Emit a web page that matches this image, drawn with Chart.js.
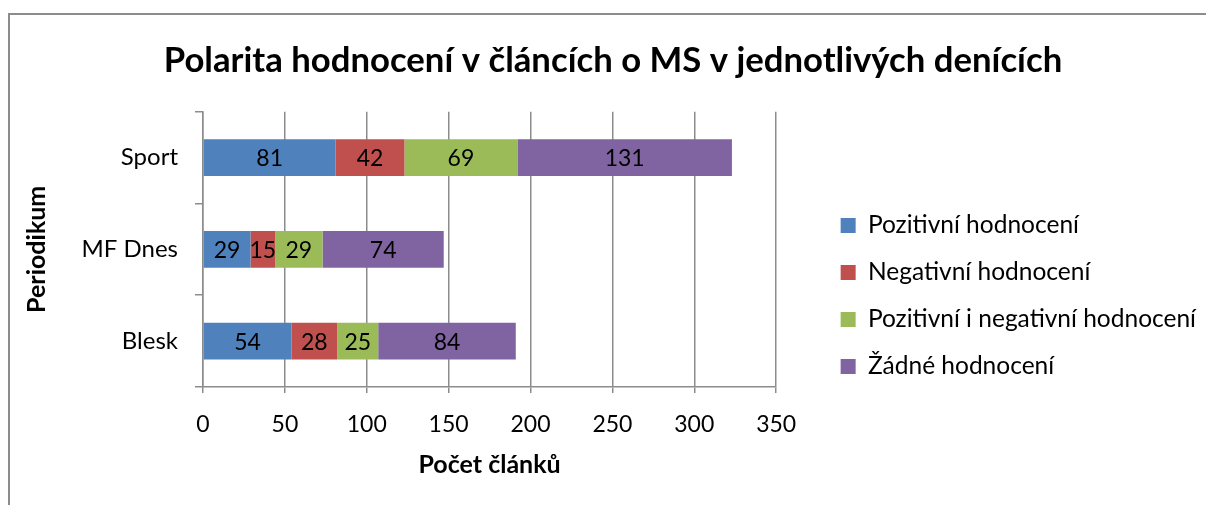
<!DOCTYPE html>
<html>
<head>
<meta charset="utf-8">
<script src="https://cdn.jsdelivr.net/npm/chart.js@4/dist/chart.umd.min.js"></script>
<style>
  html, body { margin: 0; padding: 0; background: #fff; overflow: hidden; }
  #wrap { position: relative; width: 1206px; height: 505px; overflow: hidden; }
  #frame { position: absolute; left: 8px; top: 13px; width: 1220px; height: 520px;
           border-top: 2px solid #8c8c8c; border-left: 2px solid #8c8c8c; }
  canvas { position: absolute; left: 0; top: 0; }
</style>
</head>
<body>
<div id="wrap">
  <div id="frame"></div>
  <canvas id="chart" width="1206" height="505"></canvas>
</div>
<script>
const periodika = ['Sport', 'MF Dnes', 'Blesk'];
const seriesNames = ['Pozitivní hodnocení', 'Negativní hodnocení', 'Pozitivní i negativní hodnocení', 'Žádné hodnocení'];
const pozitivni = [81, 29, 54];
const negativni = [42, 15, 28];
const obojiHodnoceni = [69, 29, 25];
const zadne = [131, 74, 84];
const seriesColors = ['#4F81BD', '#C0504D', '#9BBB59', '#8064A2'];
const xMax = 350;
const xStep = 50;

const FONT = 'Lato';
const GRID = '#8c8c8c';
const TXT = 23;

// values written in the middle of every bar segment
const barLabels = {
  id: 'barLabels',
  afterDatasetsDraw(chart) {
    const ctx = chart.ctx;
    ctx.save();
    ctx.font = TXT + 'px ' + FONT;
    ctx.fillStyle = '#000';
    ctx.textAlign = 'center';
    ctx.textBaseline = 'middle';
    chart.data.datasets.forEach((ds, i) => {
      chart.getDatasetMeta(i).data.forEach((bar, j) => {
        const p = bar.getCenterPoint();
        ctx.fillText(ds.data[j], p.x, p.y + 1);
      });
    });
    ctx.restore();
  }
};

const values = [pozitivni, negativni, obojiHodnoceni, zadne];

new Chart(document.getElementById('chart').getContext('2d'), {
  type: 'bar',
  data: {
    labels: periodika,
    datasets: values.map((v, i) => ({
      label: seriesNames[i],
      data: v,
      backgroundColor: seriesColors[i],
      borderWidth: 0,
      barPercentage: 1,
      categoryPercentage: 0.4
    }))
  },
  options: {
    indexAxis: 'y',
    responsive: false,
    animation: false,
    devicePixelRatio: 1,
    layout: { padding: { top: 13, left: 20, right: 0, bottom: 0 } },
    scales: {
      x: {
        stacked: true,
        min: 0,
        max: xMax,
        ticks: { stepSize: xStep, color: '#000', font: { family: FONT, size: TXT }, padding: 18 },
        grid: { color: GRID, lineWidth: 1.5, tickLength: 6 },
        border: { color: GRID, width: 1.5 },
        title: { display: true, text: 'Počet článků', color: '#000',
                 font: { family: FONT, size: 25, weight: 'bold' }, padding: { top: 25, bottom: 25 } },
        afterFit(scale) { scale.height = 118; }
      },
      y: {
        stacked: true,
        ticks: { color: '#000', font: { family: FONT, size: 24 }, padding: 17 },
        grid: { color: GRID, lineWidth: 1.5, tickLength: 8, drawOnChartArea: false, offset: true },
        border: { color: GRID, width: 1.5 },
        title: { display: true, text: 'Periodikum', color: '#000',
                 font: { family: FONT, size: 25, weight: 'bold' }, padding: { top: 2, bottom: 2 } },
        afterFit(scale) { scale.width = 183; }
      },
      // empty gap between the plot and the legend
      gap: {
        type: 'category',
        position: 'right',
        grid: { display: false },
        border: { display: false },
        ticks: { display: false },
        afterFit(scale) { scale.width = 42; }
      }
    },
    plugins: {
      title: {
        display: true,
        text: 'Polarita hodnocení v článcích o MS v jednotlivých denících',
        color: '#000',
        font: { family: FONT, size: 34.7, weight: 'bold' },
        padding: { top: 27, bottom: 30 }
      },
      legend: {
        position: 'right',
        align: 'center',
        maxWidth: 440,
        title: { display: true, text: ' ', font: { size: 10 }, padding: { top: 62, bottom: 0 } },
        labels: { boxWidth: 15, boxHeight: 15, color: '#000', font: { family: FONT, size: 24.5 }, padding: 22.5 }
      },
      tooltip: { enabled: false }
    }
  },
  plugins: [barLabels]
});
</script>
</body>
</html>
